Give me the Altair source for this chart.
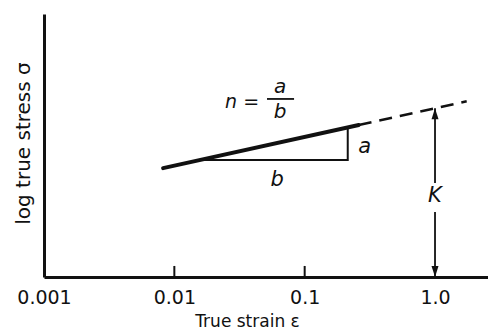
import altair as alt
import pandas as pd

# ---- data (log-log schematic: x = true strain, y = log true stress in arbitrary units) ----
line_strain = [0.0082, 0.26]
line_stress = [4.14, 5.78]
dash_strain = [0.26, 1.75]
dash_stress = [5.78, 6.68]
tri_strain = [0.0157, 0.214, 0.214]
tri_stress = [4.45, 4.45, 5.65]
k_strain = 1.0
k_top = 6.42
k_gap_hi = 3.57
k_gap_lo = 2.47
inner_ticks = [0.01, 0.1]
tick_len = 0.42
x_tick_values = [0.001, 0.01, 0.1, 1.0]
x_tick_labels = ["0.001", "0.01", "0.1", "1.0"]
ann_text = ["a", "b", "K"]
ann_strain = [0.289, 0.0614, 1.0]
ann_stress = [4.94, 3.69, 3.08]
frac_text = ["n =", "a", "b"]
frac_strain = [0.0447, 0.0647, 0.0647]
frac_stress = [6.65, 7.22, 6.26]
frac_bar_strain = [0.0514, 0.0829]
frac_bar_stress = 6.77

XD = [0.001, 2.55]
YD = [0, 10]
FONT = "DejaVu Sans"
INK = "#111111"

xs = alt.Scale(type="log", domain=XD, nice=False)
ys = alt.Scale(domain=YD, nice=False, zero=False)

label_expr = " : ".join(
    f"abs(datum.value - {v}) < {v}*0.01 ? '{l}'" for v, l in zip(x_tick_values, x_tick_labels)
) + " : ''"

xaxis = alt.Axis(
    values=x_tick_values, labelExpr=label_expr, ticks=False, grid=False,
    domain=True, domainColor=INK, domainWidth=3,
    labelFont=FONT, labelFontSize=19, labelColor=INK, labelPadding=11, labelFlush=False,
    title="True strain  ε", titleFont=FONT, titleFontSize=17, titleFontWeight="normal",
    titleColor=INK, titleX=203, titleY=49, titleBaseline="alphabetic", titleAlign="center",
)
yaxis = alt.Axis(
    labels=False, ticks=False, grid=False, domain=True, domainColor=INK, domainWidth=3,
    title="log true stress σ", titleFont=FONT, titleFontSize=20, titleFontWeight="normal",
    titleColor=INK, titleAngle=270, titleX=-21, titleY=129, titleAlign="center",
    titleBaseline="middle",
)

solid = alt.Chart(pd.DataFrame({"e": line_strain, "s": line_stress})).mark_line(
    color=INK, strokeWidth=4, strokeCap="round"
).encode(x=alt.X("e:Q", scale=xs, axis=xaxis), y=alt.Y("s:Q", scale=ys, axis=yaxis))

dashed = alt.Chart(pd.DataFrame({"e": dash_strain, "s": dash_stress})).mark_line(
    color=INK, strokeWidth=2.5, strokeDash=[13, 8]
).encode(x=alt.X("e:Q", scale=xs), y=alt.Y("s:Q", scale=ys))

tri = alt.Chart(pd.DataFrame({"e": tri_strain, "s": tri_stress, "o": [0, 1, 2]})).mark_line(
    color=INK, strokeWidth=2
).encode(x=alt.X("e:Q", scale=xs), y=alt.Y("s:Q", scale=ys), order="o:Q")

karrow = alt.Chart(pd.DataFrame({"e": [k_strain, k_strain], "s1": [k_gap_hi, 0], "s2": [k_top, k_gap_lo]})).mark_rule(
    color=INK, strokeWidth=1.8
).encode(x=alt.X("e:Q", scale=xs), y=alt.Y("s1:Q", scale=ys), y2="s2:Q")

head_up = alt.Chart(pd.DataFrame({"e": [k_strain], "s": [k_top]})).mark_point(
    shape="M0,0L-0.7,2.2L0.7,2.2Z", filled=True, color=INK, size=100, opacity=1
).encode(x=alt.X("e:Q", scale=xs), y=alt.Y("s:Q", scale=ys))

head_dn = alt.Chart(pd.DataFrame({"e": [k_strain], "s": [0]})).mark_point(
    shape="M0,0L-0.7,-2.2L0.7,-2.2Z", filled=True, color=INK, size=100, opacity=1
).encode(x=alt.X("e:Q", scale=xs), y=alt.Y("s:Q", scale=ys))

ticks = alt.Chart(pd.DataFrame({"e": inner_ticks, "s1": [0] * len(inner_ticks), "s2": [tick_len] * len(inner_ticks)})).mark_rule(
    color=INK, strokeWidth=2
).encode(x=alt.X("e:Q", scale=xs), y=alt.Y("s1:Q", scale=ys), y2="s2:Q")

ann = alt.Chart(pd.DataFrame({"e": ann_strain, "s": ann_stress, "t": ann_text})).mark_text(
    font=FONT, fontSize=21, fontStyle="italic", color=INK, align="center", baseline="middle"
).encode(x=alt.X("e:Q", scale=xs), y=alt.Y("s:Q", scale=ys), text="t:N")

frac_df = pd.DataFrame({"e": frac_strain, "s": frac_stress, "t": frac_text})
frac_n = alt.Chart(frac_df.iloc[[0]]).mark_text(
    font=FONT, fontSize=19, fontStyle="italic", color=INK, align="right", baseline="middle"
).encode(x=alt.X("e:Q", scale=xs), y=alt.Y("s:Q", scale=ys), text="t:N")
frac_ab = alt.Chart(frac_df.iloc[[1, 2]]).mark_text(
    font=FONT, fontSize=20, fontStyle="italic", color=INK, align="center", baseline="middle"
).encode(x=alt.X("e:Q", scale=xs), y=alt.Y("s:Q", scale=ys), text="t:N")

frac_bar = alt.Chart(pd.DataFrame({"e1": [frac_bar_strain[0]], "e2": [frac_bar_strain[1]], "s": [frac_bar_stress]})).mark_rule(
    color=INK, strokeWidth=1.8
).encode(x=alt.X("e1:Q", scale=xs), x2="e2:Q", y=alt.Y("s:Q", scale=ys))

chart = alt.layer(
    solid, dashed, tri, karrow, head_up, head_dn, ticks, ann, frac_n, frac_ab, frac_bar
).properties(
    width=444, height=263,
    autosize=alt.AutoSizeParams(type="none"),
    padding={"left": 44, "top": 14, "right": 0, "bottom": 52},
    background="white",
).configure_view(stroke=None)

chart.save("out.html", embed_options={"renderer": "svg", "actions": False})
